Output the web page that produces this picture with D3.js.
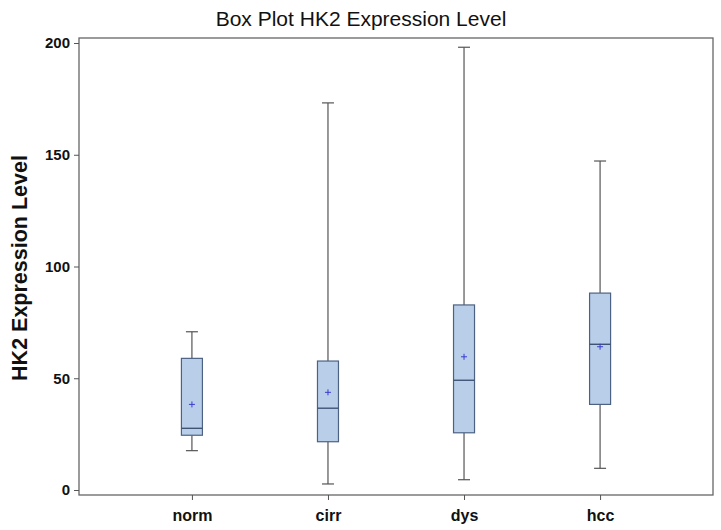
<!DOCTYPE html>
<html><head><meta charset="utf-8">
<script src="https://cdn.jsdelivr.net/npm/d3@7"></script>
<style>body{margin:0;background:#fff}svg{display:block}</style>
</head><body>
<svg id="c" width="721" height="530"></svg>
<script>
const categories = ["norm","cirr","dys","hcc"];
const whiskerLow = [17.6, 2.7, 4.6, 9.7];
const q1 = [24.5, 21.6, 25.6, 38.3];
const median = [27.6, 36.6, 49.1, 65.2];
const q3 = [58.9, 57.7, 82.8, 88.1];
const whiskerHigh = [70.8, 173.2, 198.1, 147.2];
const means = [38.3, 43.7, 59.6, 64.1];
const yTicks = [0, 50, 100, 150, 200];

const svg = d3.select("#c");
const L = 79, R = 713, T = 38, B = 495;
const x = d3.scalePoint().domain(categories).range([L, R]).padding(0.83);
const y = d3.scaleLinear().domain([0, 200]).range([490, 43]);

// frame
svg.append("rect").attr("x", L).attr("y", T).attr("width", R - L).attr("height", B - T)
  .attr("fill", "none").attr("stroke", "#666").attr("stroke-width", 1.3);

// y axis
const ya = svg.append("g").attr("transform", `translate(${L},0)`)
  .call(d3.axisLeft(y).tickValues(yTicks).tickSize(5).tickPadding(4));
ya.select(".domain").remove();
ya.selectAll("line").attr("stroke", "#555");
ya.selectAll("text").attr("font-family", "Liberation Sans, Arial, sans-serif")
  .attr("font-weight", "bold").attr("font-size", 15).attr("fill", "#111");

// x axis
const xa = svg.append("g").attr("transform", `translate(0,${B})`)
  .call(d3.axisBottom(x).tickSize(5).tickPadding(10));
xa.select(".domain").remove();
xa.selectAll("line").attr("stroke", "#555");
xa.selectAll("text").attr("font-family", "Liberation Sans, Arial, sans-serif")
  .attr("font-weight", "bold").attr("font-size", 16).attr("fill", "#111");

const bw = 21;
const g = svg.append("g");
categories.forEach((c, i) => {
  const cx = x(c);
  const gg = g.append("g");
  gg.append("line").attr("x1", cx).attr("x2", cx).attr("y1", y(whiskerHigh[i])).attr("y2", y(q3[i]))
    .attr("stroke", "#555").attr("stroke-width", 1.2);
  gg.append("line").attr("x1", cx).attr("x2", cx).attr("y1", y(q1[i])).attr("y2", y(whiskerLow[i]))
    .attr("stroke", "#555").attr("stroke-width", 1.2);
  [whiskerHigh[i], whiskerLow[i]].forEach(v => {
    gg.append("line").attr("x1", cx - 6).attr("x2", cx + 6).attr("y1", y(v)).attr("y2", y(v))
      .attr("stroke", "#555").attr("stroke-width", 1.2);
  });
  gg.append("rect").attr("x", cx - bw / 2).attr("y", y(q3[i])).attr("width", bw)
    .attr("height", y(q1[i]) - y(q3[i])).attr("fill", "#b9cfe9").attr("stroke", "#4d6283").attr("stroke-width", 1.2);
  gg.append("line").attr("x1", cx - bw / 2).attr("x2", cx + bw / 2).attr("y1", y(median[i])).attr("y2", y(median[i]))
    .attr("stroke", "#3f5475").attr("stroke-width", 1.4);
  const my = y(means[i]);
  gg.append("path").attr("d", `M${cx - 3},${my}H${cx + 3}M${cx},${my - 3}V${my + 3}`)
    .attr("stroke", "#3b3bd0").attr("stroke-width", 1);
});

// title
svg.append("text").attr("x", 361).attr("y", 26).attr("text-anchor", "middle")
  .attr("font-family", "Liberation Sans, Arial, sans-serif").attr("font-size", 21).attr("fill", "#111")
  .text("Box Plot HK2 Expression Level");

// y label
svg.append("text").attr("transform", `translate(27,268) rotate(-90)`).attr("text-anchor", "middle")
  .attr("font-family", "Liberation Sans, Arial, sans-serif").attr("font-weight", "bold").attr("font-size", 21.5).attr("fill", "#111")
  .text("HK2 Expression Level");
</script>
</body></html>
